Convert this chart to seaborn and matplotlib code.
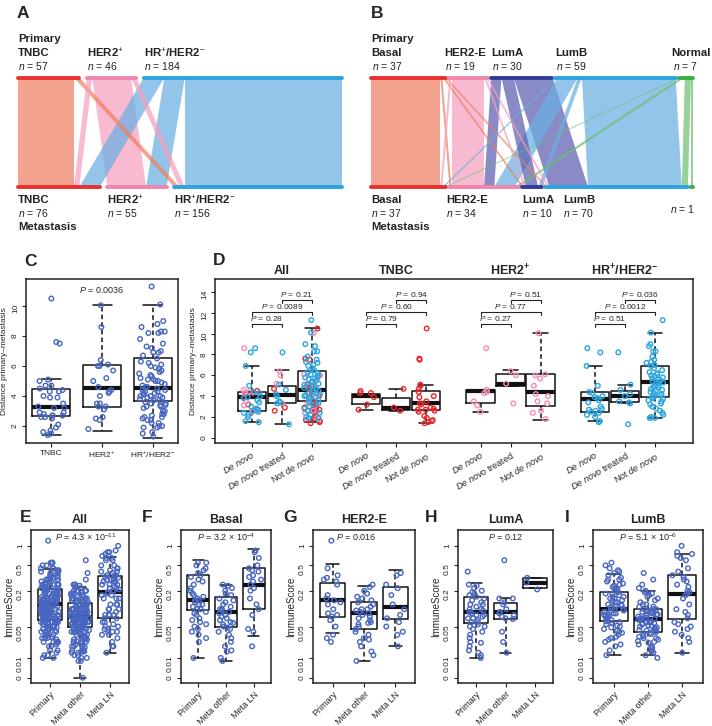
import numpy as np
import pandas as pd
import matplotlib
matplotlib.use("Agg")
import matplotlib.pyplot as plt
import seaborn as sns
from matplotlib.patches import Polygon
from matplotlib.transforms import blended_transform_factory

# ---------------- data ----------------
# A: subtype switch primary -> metastasis (rows primary, cols metastasis)
A_names = ['TNBC', 'HER2$^{+}$', 'HR$^{+}$/HER2$^{-}$']
A_flows = [[52, 0, 5],
           [5, 36, 5],
           [19, 19, 146]]

# B: PAM50 switch
B_names = ['Basal', 'HER2-E', 'LumA', 'LumB', 'Normal']
B_flows = [[34, 1, 1, 1, 0],
           [1, 16, 1, 1, 0],
           [0, 5, 6, 19, 0],
           [1, 10, 2, 46, 0],
           [1, 2, 0, 3, 1]]

# D: distance primary-metastasis by subtype and de novo status
D_cats = ['De novo', 'De novo treated', 'Not de novo']
TN_DN = [4.5, 4.3, 4.3, 3.9, 3.2, 2.7]
TN_DT = [4.7, 2.9, 2.6]
TN_ND = [10.5, 7.6, 7.5, 5.1, 5.0, 4.7, 4.4, 4.0, 3.9, 3.5, 3.3, 3.2, 2.9, 2.8,
         2.7, 2.7, 2.6, 2.5, 2.1, 1.9, 1.7, 1.6, 1.5, 1.4]
H2_DN = [8.6, 4.6, 4.4, 4.3, 3.5, 3.1, 2.5]
H2_DT = [6.4, 6.0, 5.2, 3.3]
H2_ND = [10.05, 6.1, 6.0, 5.7, 5.0, 4.2, 4.0, 3.5, 3.3, 2.6, 2.4, 1.8]
HR_DN = [8.6, 8.2, 6.9, 5.0, 4.4, 4.3, 4.0, 3.9, 3.8, 3.6, 3.4, 3.0, 2.8, 2.7,
         2.6, 2.5, 2.4, 2.2, 2.0, 1.6, 1.5]
HR_DT = [8.2, 5.1, 4.6, 4.2, 4.0, 3.5, 3.4, 3.3, 1.3]
HR_ND = [11.3, 10.1, 9.0, 8.8, 8.3, 8.3, 7.8, 7.5, 7.3, 7.2, 7.0, 6.9, 6.7, 6.5,
         6.3, 6.2, 6.1, 6.0, 5.9, 5.8, 5.7, 5.6, 5.5, 5.4, 5.3, 5.2, 5.1, 5.0,
         4.9, 4.8, 4.7, 4.6, 4.5, 4.4, 4.3, 4.2, 4.1, 4.0, 3.9, 3.8, 3.7, 3.6,
         3.5, 3.3, 3.2, 3.0, 2.8, 2.6, 2.4, 2.2, 2.0, 1.9, 1.9]

# box statistics (C: TNBC, HER2+, HR+)
C_med = [3.29, 4.51, 4.51]
C_q1 = [2.67, 3.29, 3.69]
C_q3 = [4.45, 6.05, 6.55]
C_lo = [1.4, 1.67, 1.22]
C_hi = [5.13, 10.07, 10.1]

# D: All, TNBC, HER2+, HR+ x (De novo, treated, not de novo)
D_med = [3.9, 4.1, 4.6, 4.05, 2.9, 3.3, 4.45, 5.15, 4.36, 3.7, 4.05, 5.37]
D_q1 = [2.6, 3.3, 3.5, 3.2, 2.65, 2.65, 3.3, 5.0, 3.1, 2.47, 3.4, 3.95]
D_q3 = [4.4, 5.0, 6.4, 4.2, 3.8, 4.5, 4.6, 6.1, 6.1, 4.36, 4.5, 6.9]
D_lo = [1.5, 1.3, 1.5, 2.7, 2.6, 1.4, 2.5, 5.0, 1.75, 1.58, 3.3, 1.93]
D_hi = [6.9, 6.5, 10.5, 4.2, 4.7, 5.1, 4.6, 6.5, 10.05, 6.9, 5.1, 10.05]
D_pvals = [['0.28', '0.0089', '0.21'],
           ['0.79', '0.60', '0.94'],
           ['0.27', '0.77', '0.51'],
           ['0.51', '0.0012', '0.036']]

# E-I: ImmuneScore (Primary, Meta other, Meta LN)
F_PRI = [0.55, 0.55, 0.5, 0.45, 0.42, 0.38, 0.35, 0.33, 0.3, 0.28, 0.25, 0.22, 0.2,
         0.18, 0.17, 0.16, 0.15, 0.14, 0.14, 0.13, 0.12, 0.12, 0.11, 0.1, 0.1, 0.09,
         0.085, 0.08, 0.07, 0.065, 0.06, 0.055, 0.05, 0.045, 0.04, 0.035, 0.03, 0.025, 0.01]
F_MET = [0.25, 0.24, 0.22, 0.2, 0.18, 0.17, 0.15, 0.14, 0.13, 0.12, 0.11, 0.1, 0.1,
         0.095, 0.09, 0.085, 0.08, 0.075, 0.07, 0.065, 0.06, 0.058, 0.055, 0.05, 0.048,
         0.045, 0.04, 0.035, 0.03, 0.025, 0.02, 0.016, 0.015, 0.01, 0.008]
F_LN = [0.85, 0.8, 0.65, 0.5, 0.45, 0.42, 0.4, 0.35, 0.33, 0.3, 0.28, 0.25, 0.22, 0.2,
        0.15, 0.12, 0.1, 0.08, 0.045, 0.04, 0.02]
G_PRI = [1.2, 0.45, 0.35, 0.32, 0.3, 0.28, 0.25, 0.17, 0.15, 0.14, 0.13, 0.12, 0.1,
         0.085, 0.08, 0.075, 0.065, 0.05, 0.035, 0.03, 0.025]
G_MET = [0.25, 0.23, 0.2, 0.18, 0.16, 0.15, 0.14, 0.13, 0.12, 0.11, 0.1, 0.1, 0.095,
         0.09, 0.085, 0.08, 0.075, 0.07, 0.065, 0.06, 0.058, 0.055, 0.05, 0.045, 0.04,
         0.035, 0.03, 0.028, 0.025, 0.02, 0.015, 0.012, 0.008]
G_LN = [0.38, 0.35, 0.25, 0.22, 0.17, 0.12, 0.1, 0.08, 0.07, 0.06, 0.05, 0.04, 0.035, 0.02]
H_PRI = [0.4, 0.25, 0.24, 0.22, 0.2, 0.19, 0.18, 0.17, 0.16, 0.15, 0.14, 0.13, 0.12, 0.12,
         0.11, 0.1, 0.1, 0.095, 0.09, 0.09, 0.085, 0.08, 0.08, 0.075, 0.07, 0.07, 0.065,
         0.06, 0.06, 0.055, 0.05, 0.05, 0.045, 0.04, 0.035, 0.03, 0.025, 0.024, 0.02,
         0.016, 0.014, 0.012, 0.01]
H_MET = [0.6, 0.15, 0.15, 0.13, 0.12, 0.1, 0.09, 0.085, 0.08, 0.075, 0.07, 0.068, 0.04,
         0.025, 0.014]
H_LN = [0.32, 0.27, 0.21]
I_PRI = [0.55, 0.5, 0.45, 0.42, 0.4, 0.38, 0.35, 0.32, 0.3, 0.3, 0.28, 0.26, 0.25, 0.24,
         0.23, 0.22, 0.21, 0.2, 0.19, 0.18, 0.18, 0.17, 0.16, 0.16, 0.15, 0.15, 0.14,
         0.14, 0.13, 0.13, 0.12, 0.12, 0.115, 0.11, 0.11, 0.105, 0.1, 0.1, 0.1, 0.095,
         0.095, 0.09, 0.09, 0.085, 0.085, 0.08, 0.08, 0.078, 0.075, 0.072, 0.07, 0.068,
         0.065, 0.062, 0.06, 0.058, 0.055, 0.052, 0.05, 0.048, 0.045, 0.042, 0.04,
         0.038, 0.035, 0.032, 0.03, 0.028, 0.025, 0.022, 0.02, 0.016, 0.012]
I_MET = [0.38, 0.3, 0.25, 0.22, 0.2, 0.19, 0.18, 0.17, 0.16, 0.15, 0.14, 0.13, 0.12,
         0.12, 0.11, 0.11, 0.1, 0.1, 0.1, 0.095, 0.09, 0.09, 0.088, 0.085, 0.082, 0.08,
         0.08, 0.078, 0.075, 0.072, 0.07, 0.07, 0.068, 0.066, 0.065, 0.062, 0.06, 0.06,
         0.058, 0.056, 0.055, 0.053, 0.05, 0.05, 0.048, 0.046, 0.045, 0.043, 0.042,
         0.04, 0.04, 0.038, 0.036, 0.035, 0.033, 0.032, 0.03, 0.03, 0.028, 0.026, 0.025,
         0.024, 0.022, 0.02, 0.019, 0.018, 0.016, 0.015, 0.014, 0.012, 0.01]
I_LN = [1.0, 0.8, 0.75, 0.7, 0.65, 0.6, 0.45, 0.4, 0.35, 0.33, 0.3, 0.28, 0.25, 0.23,
        0.2, 0.19, 0.18, 0.17, 0.15, 0.12, 0.1, 0.09, 0.08, 0.07, 0.06, 0.055, 0.05,
        0.045, 0.04, 0.035, 0.03, 0.025, 0.014]
# samples of other subtypes, only in "All"
X_PRI = [0.3, 0.25, 0.2, 0.15, 0.12, 0.1, 0.08, 0.06]
X_MET = [0.0, 0.2, 0.1, 0.05, 0.03]
X_LN = [0.6, 0.5, 0.3, 0.15, 0.08]

IMM_titles = ['All', 'Basal', 'HER2-E', 'LumA', 'LumB']
IMM_groups = ['Primary', 'Meta other', 'Meta LN']
IMM_pvals = [r'$\it{P}$ = 4.3 × 10$^{-11}$', r'$\it{P}$ = 3.2 × 10$^{-4}$',
             r'$\it{P}$ = 0.016', r'$\it{P}$ = 0.12', r'$\it{P}$ = 5.1 × 10$^{-6}$']
IMM_med = [[0.12, 0.075, 0.19], [0.14, 0.09, 0.25], [0.14, 0.085, 0.11],
           [0.09, 0.09, 0.27], [0.1, 0.067, 0.18]]
IMM_q1 = [[0.065, 0.048, 0.07], [0.097, 0.05, 0.10], [0.075, 0.045, 0.068],
          [0.058, 0.067, 0.22], [0.062, 0.04, 0.067]]
IMM_q3 = [[0.21, 0.125, 0.34], [0.36, 0.16, 0.46], [0.27, 0.13, 0.23],
          [0.16, 0.125, 0.32], [0.19, 0.1, 0.35]]
IMM_lo = [[0.01, 0.0, 0.014], [0.01, 0.008, 0.033], [0.038, 0.008, 0.02],
          [0.01, 0.014, 0.22], [0.012, 0.012, 0.014]]
IMM_hi = [[0.44, 0.23, 0.68], [0.6, 0.25, 0.9], [0.52, 0.24, 0.42],
          [0.27, 0.15, 0.32], [0.37, 0.2, 0.76]]

# ---------------- style ----------------
sns.set_theme(style="ticks")
plt.rcParams['font.family'] = ['Liberation Sans', 'DejaVu Sans']
plt.rcParams['mathtext.fontset'] = 'custom'
plt.rcParams['mathtext.rm'] = 'Liberation Sans'
plt.rcParams['mathtext.it'] = 'Liberation Sans:italic'
plt.rcParams['mathtext.bf'] = 'Liberation Sans:bold'
np.random.seed(7)

W, H = 712, 726
fig = plt.figure(figsize=(W / 100, H / 100), dpi=100)
PT = 0.72  # points per pixel


def px_axes(left, top, right, bottom):
    return fig.add_axes([left / W, 1 - bottom / H, (right - left) / W, (bottom - top) / H])


def letter(x, y, s):
    fig.text(x / W, 1 - y / H, s, ha='left', va='center', fontsize=12.5, weight='bold')


def draw_sankey(ax, flows, gap, bar_cols, flow_cols, alpha):
    flows = np.asarray(flows, float)
    src = flows.sum(1)
    dst = flows.sum(0)
    s0 = np.concatenate([[0], np.cumsum(src + gap)[:-1]])
    d0 = np.concatenate([[0], np.cumsum(dst + gap)[:-1]])
    order = sorted([(i, j) for i in range(len(src)) for j in range(len(dst)) if flows[i, j] > 0],
                   key=lambda t: -flows[t])
    for i, j in order:
        w = flows[i, j]
        xt = s0[i] + flows[i, :j].sum()
        xb = d0[j] + flows[:i, j].sum()
        ax.add_patch(Polygon([(xt, 1), (xt + w, 1), (xb + w, 0), (xb, 0)], closed=True,
                             fc=flow_cols[i], alpha=alpha, lw=0))
    for i in range(len(src)):
        ax.plot([s0[i], s0[i] + src[i]], [1, 1], color=bar_cols[i], lw=2.8,
                solid_capstyle='round', clip_on=False)
        ax.plot([d0[i], d0[i] + dst[i]], [0, 0], color=bar_cols[i], lw=2.8,
                solid_capstyle='round', clip_on=False)
    ax.set_xlim(0, flows.sum() + gap * (len(src) - 1))
    ax.set_ylim(0, 1)
    ax.axis('off')
    return s0, d0, src, dst


def lab(ax, x, y, s, dx_px, dy_px, size=8.2, weight='bold', ha='left'):
    ax.annotate(s, xy=(x, y), xytext=(dx_px * PT, dy_px * PT), textcoords='offset points',
                ha=ha, va='center', fontsize=size, weight=weight, color='#222222',
                annotation_clip=False)


# ---------------- A ----------------
axA = px_axes(18, 77.5, 342, 187)
s0, d0, src, dst = draw_sankey(axA, A_flows, 7,
                               ['#E8302F', '#EE86AE', '#2EA3E0'],
                               ['#EF7F62', '#F4A0BE', '#6AAFE3'], 0.72)
lab(axA, 0, 1, 'Primary', 0, 38.5)
for i, nm in enumerate(A_names):
    lab(axA, s0[i], 1, nm, 0, 24.5)
    lab(axA, s0[i], 1, r'$\it{n}$ = %d' % src[i], 0, 11.5, size=7.5, weight='normal')
    lab(axA, d0[i], 0, nm, 0, -13)
    lab(axA, d0[i], 0, r'$\it{n}$ = %d' % dst[i], 0, -26, size=7.5, weight='normal')
lab(axA, 0, 0, 'Metastasis', 0, -40)
letter(17, 13, 'A')

# ---------------- B ----------------
axB = px_axes(371, 77.5, 693, 187)
s0, d0, src, dst = draw_sankey(axB, B_flows, 1.5,
                               ['#E8302F', '#EE86AE', '#2E3D96', '#2EA3E0', '#3AAE49'],
                               ['#EF7F62', '#F4A0BE', '#5D5DB0', '#6AAFE3', '#6CC070'], 0.72)
lab(axB, 0, 1, 'Primary', 0, 38.5)
top_dx = [0, -5, 0, 0, -7]
bot_dx = [0, -3, 0, 18, 0]
for i, nm in enumerate(B_names):
    lab(axB, s0[i], 1, nm, top_dx[i], 24.5)
    lab(axB, s0[i], 1, r'$\it{n}$ = %d' % src[i], top_dx[i] + 1, 11.5, size=7.5, weight='normal')
    if i < 4:
        lab(axB, d0[i], 0, nm, bot_dx[i], -13)
        lab(axB, d0[i], 0, r'$\it{n}$ = %d' % dst[i], bot_dx[i], -26, size=7.5, weight='normal')
    else:
        lab(axB, d0[i] + dst[i], 0, r'$\it{n}$ = %d' % dst[i], 2, -22, size=7.5,
            weight='normal', ha='right')
lab(axB, 0, 0, 'Metastasis', 0, -40)
letter(371, 13, 'B')

# ---------------- helpers for box panels ----------------
BLUE = '#4866C0'


def boxes(ax, med, q1, q3, lo, hi, pos, width):
    stats = [dict(med=m, q1=a, q3=b, whislo=l, whishi=h, fliers=[])
             for m, a, b, l, h in zip(med, q1, q3, lo, hi)]
    ax.bxp(stats, positions=pos, widths=width, capwidths=width * 0.5, showfliers=False,
           boxprops=dict(color='#111111', lw=1.1),
           medianprops=dict(color='#111111', lw=3, solid_capstyle='butt'),
           whiskerprops=dict(color='#111111', lw=1.1, ls=(0, (3, 2))),
           capprops=dict(color='#111111', lw=1.1), manage_ticks=False, zorder=2)


def strip(ax, df, palette, jitter, size=3.3):
    n0 = len(ax.collections)
    sns.stripplot(data=df, x='pos', y='value', hue='group', palette=palette, orient='x',
                  native_scale=True, jitter=jitter, size=size, linewidth=0, legend=False,
                  ax=ax, zorder=4)
    for coll in ax.collections[n0:]:
        fc = coll.get_facecolors()
        coll.set_edgecolors(fc)
        coll.set_facecolors('none')
        coll.set_linewidths(1.0)


def frame(ax):
    for sp in ax.spines.values():
        sp.set_color('#222222')
        sp.set_linewidth(1.1)
    ax.tick_params(length=3, width=0.8, color='#222222', labelsize=6, pad=2)
    ax.set_xlabel('')


# ---------------- C ----------------
axC = px_axes(26, 279, 178, 443)
C_vals = [TN_DN + TN_DT + TN_ND, H2_DN + H2_DT + H2_ND, HR_DN + HR_DT + HR_ND]
dfC = pd.DataFrame([(p, v, 'c') for p, vs in enumerate(C_vals) for v in vs],
                   columns=['pos', 'value', 'group'])
boxes(axC, C_med, C_q1, C_q3, C_lo, C_hi, [0, 1, 2], 0.75)
strip(axC, dfC, {'c': BLUE}, 0.27)
axC.set_xlim(-0.5, 2.5)
axC.set_ylim(0.87, 11.8)
axC.set_yticks([2, 4, 6, 8, 10])
axC.set_xticks([0, 1, 2])
axC.set_xticklabels(['TNBC', 'HER2$^{+}$', 'HR$^{+}$/HER2$^{-}$'])
frame(axC)
axC.tick_params(axis='y', labelrotation=90)
axC.set_ylabel('Distance primary–metastasis', fontsize=6, labelpad=3)
axC.text(1, 11.05, r'$\it{P}$ = 0.0036', ha='center', va='center', fontsize=6.5)
letter(24, 262, 'C')

# ---------------- D ----------------
axD = px_axes(215, 279, 693, 443)
STEP = 3.81
sub_lists = {'TNBC': [TN_DN, TN_DT, TN_ND], 'HER2+': [H2_DN, H2_DT, H2_ND],
             'HR+/HER2-': [HR_DN, HR_DT, HR_ND]}
subtypes = list(sub_lists)
rows = []
for g, grp in enumerate(['All'] + subtypes):
    members = subtypes if grp == 'All' else [grp]
    for c in range(3):
        for s in members:
            for v in sub_lists[s][c]:
                rows.append((g * STEP + c, v, s))
dfD = pd.DataFrame(rows, columns=['pos', 'value', 'group'])
D_pos = [g * STEP + c for g in range(4) for c in range(3)]
boxes(axD, D_med, D_q1, D_q3, D_lo, D_hi, D_pos, 0.95)
strip(axD, dfD, {'TNBC': '#E8282E', 'HER2+': '#F28DB6', 'HR+/HER2-': '#2BA6E1'}, 0.28)
axD.set_xlim(-1.23, 14.7)
axD.set_ylim(-0.5, 15.25)
axD.set_yticks(range(0, 15, 2))
axD.set_xticks(D_pos)
axD.set_xticklabels([r'$\it{De\ novo}$', r'$\it{De\ novo}$ treated', r'Not $\it{de\ novo}$'] * 4,
                    rotation=30, ha='right', rotation_mode='anchor')
frame(axD)
axD.tick_params(axis='x', labelsize=6.5)
axD.tick_params(axis='y', labelrotation=90)
axD.set_ylabel('Distance primary–metastasis', fontsize=6, labelpad=3)
D_titles = ['All', 'TNBC', r'HER2$^{\mathbf{+}}$', r'HR$^{\mathbf{+}}$/HER2$^{\mathbf{-}}$']
trD = blended_transform_factory(axD.transData, axD.transAxes)
br_y = [10.9, 12.1, 13.2]
br_pairs = [(0, 1), (0, 2), (1, 2)]
for g in range(4):
    axD.text(g * STEP + 1, 1.05, D_titles[g], transform=trD, ha='center', va='center',
             fontsize=9, weight='bold')
    for k, (a, b) in enumerate(br_pairs):
        xa, xb = g * STEP + a, g * STEP + b
        axD.plot([xa, xa, xb, xb], [br_y[k] - 0.3, br_y[k], br_y[k], br_y[k] - 0.3],
                 color='#222222', lw=0.8)
        axD.text((xa + xb) / 2, br_y[k] + 0.1, r'$\it{P}$ = ' + D_pvals[g][k],
                 ha='center', va='bottom', fontsize=6)
letter(213, 260, 'D')

# ---------------- E - I ----------------
IMM_data = [
    [F_PRI + G_PRI + H_PRI + I_PRI + X_PRI, F_MET + G_MET + H_MET + I_MET + X_MET,
     F_LN + G_LN + H_LN + I_LN + X_LN],
    [F_PRI, F_MET, F_LN],
    [G_PRI, G_MET, G_LN],
    [H_PRI, H_MET, H_LN],
    [I_PRI, I_MET, I_LN],
]
imm_boxes = [(31, 129), (181, 271), (313, 415), (458, 553), (593, 703)]
imm_letters = [(20, 'E'), (142, 'F'), (283, 'G'), (425, 'H'), (565, 'I')]
p_x = [0.56, 0.5, 0.42, 0.5, 0.5]


def fwd(y):
    return np.log10(np.maximum(y, -0.0099) + 0.01)


def inv(y):
    return 10 ** y - 0.01


for k in range(5):
    ax = px_axes(imm_boxes[k][0], 530, imm_boxes[k][1], 683)
    df = pd.DataFrame([(p, v, 'c') for p, vs in enumerate(IMM_data[k]) for v in vs],
                      columns=['pos', 'value', 'group'])
    boxes(ax, IMM_med[k], IMM_q1[k], IMM_q3[k], IMM_lo[k], IMM_hi[k], [0, 1, 2], 0.8)
    strip(ax, df, {'c': BLUE}, 0.3)
    ax.set_yscale('function', functions=(fwd, inv))
    ax.set_ylim(inv(-2.08), inv(0.245))
    ax.set_xlim(-0.62, 2.62)
    ax.set_yticks([0, 0.01, 0.05, 0.2, 0.5, 1])
    ax.set_yticklabels(['0', '0.01', '0.05', '0.2', '0.5', '1'])
    ax.minorticks_off()
    ax.set_xticks([0, 1, 2])
    ax.set_xticklabels(IMM_groups, rotation=45, ha='right', rotation_mode='anchor')
    frame(ax)
    ax.tick_params(axis='x', labelsize=6.5)
    ax.tick_params(axis='y', labelrotation=90)
    ax.set_ylabel('ImmuneScore', fontsize=7, labelpad=2)
    ax.set_title(IMM_titles[k], fontsize=9, weight='bold', pad=5)
    ax.text(p_x[k], 0.955, IMM_pvals[k], transform=ax.transAxes, ha='center', va='center',
            fontsize=6.5)
    letter(imm_letters[k][0], 518, imm_letters[k][1])

fig.savefig('out.png', dpi=100)
